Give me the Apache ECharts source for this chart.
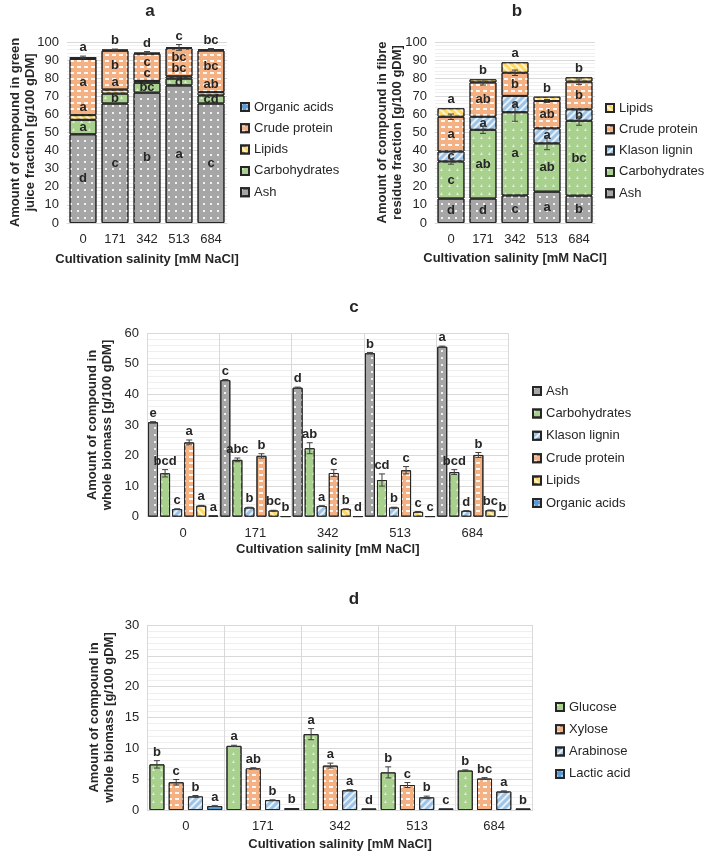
<!DOCTYPE html>
<html><head><meta charset="utf-8">
<script src="https://cdn.jsdelivr.net/npm/echarts/dist/echarts.min.js"></script>
<style>html,body{margin:0;padding:0;background:#fff}#c{width:710px;height:856px}</style>
</head><body><div id="c"></div>
<script>
// ---------- data ----------
const salinity = ['0', '171', '342', '513', '684'];

// panel a: green juice fraction (stack bottom -> top)
const aAsh  = [49, 66, 72, 76, 66];
const aCarb = [8, 5.5, 5.5, 3.8, 4.5];
const aLip  = [2.6, 2.2, 1.0, 1.2, 1.8];
const aCP   = [31, 21.5, 15, 15.5, 23];
const aOA   = [1.1, 0.6, 0.6, 0.5, 0.6];
const aOAErr = [0.5, 0.3, 0.6, 1.6, 0.5];
const aAshL  = ['d', 'c', 'b', 'a', 'c'];
const aCarbL = ['a', 'b', 'bc', 'd', 'cd'];
const aLipL  = ['a', 'a', 'c', 'bc', 'ab'];
const aCPL   = ['a', 'b', 'c', 'bc', 'bc'];
const aOAL   = ['a', 'b', 'd', 'c', 'bc'];

// panel b: fibre residue fraction (stack bottom -> top)
const bAsh  = [13.5, 13.5, 15.2, 17.3, 15.1];
const bCarb = [20.5, 38, 46, 26.7, 41.4];
const bKl   = [5.5, 7.2, 9.0, 8.3, 6.3];
const bCP   = [19.2, 19.0, 12.8, 15.1, 15.3];
const bLip  = [4.7, 1.7, 5.8, 2.4, 2.4];
const bCarbErr = [1.5, 2.0, 5.0, 3.5, 2.5];
const bCPErr   = [1.5, 1.5, 1.5, 0.8, 1.5];
const bAshL  = ['d', 'd', 'c', 'a', 'b'];
const bCarbL = ['c', 'ab', 'a', 'ab', 'bc'];
const bKlL   = ['c', 'a', 'a', 'a', 'b'];
const bCPL   = ['a', 'ab', 'b', 'ab', 'b'];
const bLipL  = ['a', 'b', 'a', 'b', 'b'];

// panel c: whole biomass composition
const cAsh  = [30.9, 44.7, 42.2, 53.5, 55.6];
const cCarb = [14.2, 18.6, 22.4, 12.0, 14.6];
const cKl   = [2.5, 3.0, 3.5, 3.0, 1.9];
const cCP   = [24.3, 19.9, 14.3, 15.2, 20.2];
const cLip  = [3.6, 2.0, 2.5, 1.6, 2.1];
const cOA   = [0.4, 0.1, 0.1, 0.1, 0.1];
const cAshErr  = [0.2, 0.2, 0.2, 0.2, 0.2];
const cCarbErr = [1.2, 0.6, 1.8, 2.0, 0.8];
const cKlErr   = [0.1, 0.1, 0.1, 0.1, 0.1];
const cCPErr   = [0.8, 0.7, 1.1, 1.2, 0.8];
const cLipErr  = [0.1, 0.1, 0.1, 0.1, 0.1];
const cOAErr   = [0, 0, 0, 0, 0];
const cAshL  = ['e', 'c', 'd', 'b', 'a'];
const cCarbL = ['bcd', 'abc', 'ab', 'cd', 'bcd'];
const cKlL   = ['c', 'b', 'a', 'b', 'd'];
const cCPL   = ['a', 'b', 'c', 'c', 'b'];
const cLipL  = ['a', 'bc', 'b', 'c', 'bc'];
const cOAL   = ['a', 'b', 'd', 'c', 'b'];

// panel d: sugars in whole biomass
const dGlu = [7.4, 10.4, 12.3, 6.1, 6.4];
const dXyl = [4.5, 6.75, 7.2, 4.05, 5.1];
const dAra = [2.2, 1.6, 3.2, 2.05, 3.0];
const dLac = [0.65, 0.3, 0.25, 0.25, 0.25];
const dGluErr = [0.6, 0.1, 0.9, 0.9, 0.1];
const dXylErr = [0.45, 0.1, 0.4, 0.4, 0.15];
const dAraErr = [0.15, 0.05, 0.1, 0.2, 0.1];
const dLacErr = [0.05, 0, 0, 0, 0];
const dGluL = ['b', 'a', 'a', 'b', 'b'];
const dXylL = ['c', 'ab', 'a', 'c', 'bc'];
const dAraL = ['b', 'b', 'a', 'b', 'a'];
const dLacL = ['a', 'b', 'd', 'c', 'b'];

// ---------- styles ----------
const FONT = '"Liberation Sans", Arial, sans-serif';
const TXT = '#262626';
const ST = {
  gray:   { color: '#a6a6a6', decal: { symbol: 'rect', symbolSize: 1, color: 'rgba(255,255,255,0.85)', dashArrayX: [1.4, 4.6], dashArrayY: [1.4, 4.6] } },
  green:  { color: '#a9d18e', decal: { symbol: 'triangle', symbolSize: 1, color: 'rgba(255,255,255,0.6)', dashArrayX: [2.5, 5], dashArrayY: [2.5, 5] } },
  lblue:  { color: '#9dc3e6', decal: { symbol: 'rect', symbolSize: 1, color: 'rgba(255,255,255,0.75)', dashArrayX: [1, 0], dashArrayY: [1.5, 2.5], rotation: -Math.PI / 4 } },
  orange: { color: '#f4b183', decal: { symbol: 'rect', symbolSize: 1, color: 'rgba(255,255,255,0.9)', dashArrayX: [4, 3], dashArrayY: [1.2, 4] } },
  yellow: { color: '#ffd966', decal: { symbol: 'rect', symbolSize: 1, color: 'rgba(255,255,255,0.7)', dashArrayX: [1, 0], dashArrayY: [1.2, 3], rotation: Math.PI / 4 } },
  dblue:  { color: '#5b9bd5', decal: { symbol: 'rect', symbolSize: 1, color: 'rgba(255,255,255,0.45)', dashArrayX: [1.5, 3], dashArrayY: [1.5, 3] } }
};
function itemStyle(s) {
  return { color: s.color, decal: s.decal, borderColor: '#262626', borderWidth: 1 };
}
const LBL = { fontFamily: FONT, fontSize: 13, fontWeight: 'bold', color: TXT };

// ---------- layout ----------
const grids = [
  { left: 67, top: 42, width: 160, height: 181 },
  { left: 435, top: 42, width: 160, height: 181 },
  { left: 147, top: 333.3, width: 361.5, height: 183.4 },
  { left: 147.3, top: 625, width: 385.4, height: 185 }
];
const yMax = [100, 100, 60, 30];
const yInt = [10, 10, 10, 5];
const yNames = [
  'Amount of compound in green\njuice fraction [g/100 gDM]',
  'Amount of compound in fibre\nresidue fraction [g/100 gDM]',
  'Amount of compound in\nwhole biomass [g/100 gDM]',
  'Amount of compound in\nwhole biomass [g/100 gDM]'
];
const yNameGap = [29, 30, 32, 30];
const xNameGap = [30, 29, 26, 28];

const xAxis = grids.map((g, k) => ({
  type: 'category', gridIndex: k, data: salinity,
  axisTick: { show: false },
  axisLine: { lineStyle: { color: '#d9d9d9' } },
  axisLabel: { fontFamily: FONT, fontSize: 13, color: TXT, margin: 10 },
  splitLine: { show: k >= 2, lineStyle: { color: '#d9d9d9' } },
  name: 'Cultivation salinity [mM NaCl]', nameLocation: 'middle', nameGap: xNameGap[k],
  nameMoveOverlap: false,
  nameTextStyle: { fontFamily: FONT, fontSize: 13, fontWeight: 'bold', color: TXT }
}));
const yAxis = grids.map((g, k) => ({
  type: 'value', gridIndex: k, min: 0, max: yMax[k], interval: yInt[k],
  axisLine: { show: false }, axisTick: { show: false },
  axisLabel: { fontFamily: FONT, fontSize: 13, color: TXT, margin: 8 },
  splitLine: { lineStyle: { color: '#d9d9d9' } },
  minorTick: { show: false, splitNumber: 5 },
  minorSplitLine: { show: true, lineStyle: { color: '#efefef' } },
  name: yNames[k], nameLocation: 'middle', nameRotate: 90, nameGap: yNameGap[k],
  nameMoveOverlap: false,
  nameTextStyle: { fontFamily: FONT, fontSize: 13, fontWeight: 'bold', color: TXT, lineHeight: 15 }
}));

const series = [];

// stacked panels
function stackedPanel(k, segs, topErr, topLetters) {
  const n = salinity.length;
  const cum = new Array(n).fill(0);
  segs.forEach(s => {
    series.push({
      type: 'bar', name: s.name, xAxisIndex: k, yAxisIndex: k, stack: 'st' + k,
      barCategoryGap: '16%', data: s.data,
      itemStyle: itemStyle(s.st),
      label: s.letters ? Object.assign({
        show: true, position: s.pos || 'inside', distance: 1, offset: s.offset || [0, 0],
        formatter: p => s.letters[p.dataIndex]
      }, LBL) : { show: false }
    });
    for (let i = 0; i < n; i++) cum[i] += s.data[i];
    if (s.err) addErr(k, cum.slice(), s.err, null, null);
  });
  addErr(k, cum.slice(), topErr, topLetters, null);
}

// error bars and letters via custom series
function addErr(k, tops, errs, letters, grp) {
  series.push({
    type: 'custom', xAxisIndex: k, yAxisIndex: k, z: 5, silent: true,
    data: tops.map((t, i) => [i, t, errs[i]]),
    renderItem: (p, api) => {
      const i = api.value(0), t = api.value(1), e = api.value(2);
      let x = api.coord([i, t])[0];
      if (grp) {
        const band = api.size([1, 0])[0];
        x += (grp.idx - (grp.n - 1) / 2) * band / grp.n;
      }
      const yT = api.coord([i, t + e])[1], yB = api.coord([i, t - e])[1];
      const st = { stroke: '#404040', lineWidth: 1 };
      const ch = [];
      if (e > 0) {
        ch.push({ type: 'line', shape: { x1: x, y1: yT, x2: x, y2: yB }, style: st });
        ch.push({ type: 'line', shape: { x1: x - 3, y1: yT, x2: x + 3, y2: yT }, style: st });
        ch.push({ type: 'line', shape: { x1: x - 3, y1: yB, x2: x + 3, y2: yB }, style: st });
      }
      if (letters) {
        ch.push({ type: 'text', x: x, y: yT - 2, style: {
          text: letters[p.dataIndex], font: 'bold 13px ' + FONT, fill: TXT,
          textAlign: 'center', textVerticalAlign: 'bottom' } });
      }
      return { type: 'group', children: ch };
    }
  });
}

stackedPanel(0, [
  { name: 'Ash', data: aAsh, st: ST.gray, letters: aAshL },
  { name: 'Carbohydrates', data: aCarb, st: ST.green, letters: aCarbL },
  { name: 'Lipids', data: aLip, st: ST.yellow, letters: aLipL, pos: 'top' },
  { name: 'Crude protein', data: aCP, st: ST.orange, letters: aCPL, offset: [0, -5] },
  { name: 'Organic acids', data: aOA, st: ST.dblue }
], aOAErr, aOAL);

stackedPanel(1, [
  { name: 'Ash', data: bAsh, st: ST.gray, letters: bAshL },
  { name: 'Carbohydrates', data: bCarb, st: ST.green, letters: bCarbL, err: bCarbErr },
  { name: 'Klason lignin', data: bKl, st: ST.lblue, letters: bKlL },
  { name: 'Crude protein', data: bCP, st: ST.orange, letters: bCPL, err: bCPErr },
  { name: 'Lipids', data: bLip, st: ST.yellow }
], [0, 0, 0, 0, 0], bLipL);

function groupedPanel(k, groups, ratio) {
  const n = groups.length;
  const bw = 100 * ratio / n;
  groups.forEach((g, idx) => {
    series.push({
      type: 'bar', name: g.name, xAxisIndex: k, yAxisIndex: k, data: g.data,
      barWidth: bw.toFixed(3) + '%', barGap: ((1 / ratio - 1) * 100).toFixed(2) + '%',
      itemStyle: itemStyle(g.st)
    });
    addErr(k, g.data, g.err, g.letters, { idx: idx, n: n });
  });
}

groupedPanel(2, [
  { name: 'Ash', data: cAsh, err: cAshErr, letters: cAshL, st: ST.gray },
  { name: 'Carbohydrates', data: cCarb, err: cCarbErr, letters: cCarbL, st: ST.green },
  { name: 'Klason lignin', data: cKl, err: cKlErr, letters: cKlL, st: ST.lblue },
  { name: 'Crude protein', data: cCP, err: cCPErr, letters: cCPL, st: ST.orange },
  { name: 'Lipids', data: cLip, err: cLipErr, letters: cLipL, st: ST.yellow },
  { name: 'Organic acids', data: cOA, err: cOAErr, letters: cOAL, st: ST.dblue }
], 0.83);

groupedPanel(3, [
  { name: 'Glucose', data: dGlu, err: dGluErr, letters: dGluL, st: ST.green },
  { name: 'Xylose', data: dXyl, err: dXylErr, letters: dXylL, st: ST.orange },
  { name: 'Arabinose', data: dAra, err: dAraErr, letters: dAraL, st: ST.lblue },
  { name: 'Lactic acid', data: dLac, err: dLacErr, letters: dLacL, st: ST.dblue }
], 0.78);

const legBase = {
  orient: 'vertical', icon: 'rect', itemWidth: 8, itemHeight: 8, selectedMode: false,
  textStyle: { fontFamily: FONT, fontSize: 13, color: TXT, lineHeight: 14 }
};
const legend = [
  Object.assign({}, legBase, { left: 235, top: 95, itemGap: 7.3, data: ['Organic acids', 'Crude protein', 'Lipids', 'Carbohydrates', 'Ash'] }),
  Object.assign({}, legBase, { left: 600, top: 96, itemGap: 7.3, data: ['Lipids', 'Crude protein', 'Klason lignin', 'Carbohydrates', 'Ash'] }),
  Object.assign({}, legBase, { left: 527, top: 379, itemGap: 8.4, data: ['Ash', 'Carbohydrates', 'Klason lignin', 'Crude protein', 'Lipids', 'Organic acids'] }),
  Object.assign({}, legBase, { left: 550, top: 695, itemGap: 8.3, data: ['Glucose', 'Xylose', 'Arabinose', 'Lactic acid'] })
];

const titles = [['a', 150, 11], ['b', 517, 11], ['c', 354, 307], ['d', 354, 599]];
const graphic = titles.map(t => ({
  type: 'text', x: t[1], y: t[2],
  style: { text: t[0], font: 'bold 17px ' + FONT, fill: TXT, textAlign: 'center', textVerticalAlign: 'middle' }
}));

const chart = echarts.init(document.getElementById('c'));
chart.setOption({
  animation: false,
  backgroundColor: '#fff',
  grid: grids,
  xAxis: xAxis,
  yAxis: yAxis,
  legend: legend,
  graphic: graphic,
  series: series
});
</script></body></html>
